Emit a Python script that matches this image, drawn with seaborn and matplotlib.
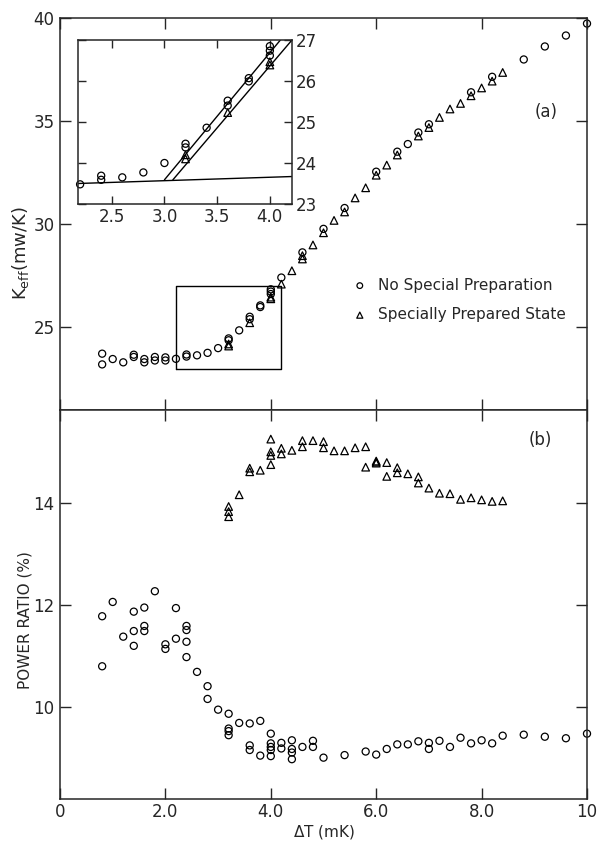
import numpy as np
import pandas as pd
import matplotlib
matplotlib.use("Agg")
import matplotlib.pyplot as plt
import seaborn as sns

# ---------------- data ----------------
# (a) K_eff, no special preparation (circles)
keff_circ_x = [0.8, 0.8, 1.0, 1.2, 1.4, 1.4, 1.6, 1.6, 1.8, 1.8, 2.0, 2.0, 2.2,
               2.4, 2.4, 2.6, 2.8, 3.0, 3.2, 3.2, 3.4, 3.6, 3.6, 3.8, 3.8,
               4.0, 4.0, 4.0, 4.2, 4.6, 5.0, 5.4, 6.0, 6.4, 6.6, 6.8, 7.0,
               7.8, 8.2, 8.8, 9.2, 9.6, 10.0]
keff_circ_y = [23.73, 23.21, 23.47, 23.31, 23.68, 23.57, 23.47, 23.31, 23.57, 23.40,
               23.55, 23.40, 23.48, 23.69, 23.59, 23.65, 23.77, 24.00, 24.47, 24.38,
               24.86, 25.52, 25.40, 26.07, 25.99, 26.85, 26.74, 26.62, 27.42, 28.64,
               29.78, 30.79, 32.55, 33.52, 33.89, 34.45, 34.85, 36.40, 37.15, 37.99,
               38.62, 39.15, 39.73]
# (a) K_eff, specially prepared state (triangles)
keff_tri_x = [3.2, 3.2, 3.6, 4.0, 4.0, 4.2, 4.4, 4.6, 4.6, 4.8, 5.0, 5.2, 5.4,
              5.6, 5.8, 6.0, 6.2, 6.4, 6.8, 7.0, 7.2, 7.4, 7.6, 7.8, 8.0, 8.2, 8.4]
keff_tri_y = [24.20, 24.10, 25.23, 26.47, 26.39, 27.10, 27.75, 28.48, 28.32, 29.00,
              29.59, 30.19, 30.60, 31.28, 31.77, 32.38, 32.87, 33.36, 34.28, 34.69,
              35.18, 35.59, 35.86, 36.23, 36.61, 36.94, 37.36]

# (b) power ratio, no special preparation (circles)
pr_circ_x = [0.8, 0.8, 1.0, 1.2, 1.4, 1.4, 1.4, 1.6, 1.6, 1.6, 1.8, 2.0, 2.0,
             2.2, 2.2, 2.4, 2.4, 2.4, 2.4, 2.6, 2.8, 2.8, 3.0, 3.2, 3.2, 3.2, 3.2,
             3.4, 3.6, 3.6, 3.6, 3.8, 3.8, 4.0, 4.0, 4.0, 4.0, 4.0, 4.2, 4.2,
             4.4, 4.4, 4.4, 4.4, 4.6, 4.8, 4.8, 5.0, 5.4, 5.8, 6.0, 6.2, 6.4,
             6.6, 6.8, 7.0, 7.0, 7.2, 7.4, 7.6, 7.8, 8.0, 8.2, 8.4, 8.8, 9.2,
             9.6, 10.0]
pr_circ_y = [11.78, 10.80, 12.06, 11.38, 11.87, 11.49, 11.20, 11.95, 11.59, 11.49,
             12.27, 11.23, 11.14, 11.94, 11.34, 11.59, 11.51, 11.28, 10.98, 10.69,
             10.41, 10.16, 9.95, 9.87, 9.58, 9.53, 9.45, 9.69, 9.68, 9.25, 9.16,
             9.73, 9.05, 9.48, 9.29, 9.22, 9.16, 9.04, 9.30, 9.19, 9.35, 9.18,
             9.11, 8.98, 9.22, 9.34, 9.22, 9.01, 9.06, 9.13, 9.07, 9.18, 9.27,
             9.27, 9.33, 9.30, 9.18, 9.34, 9.22, 9.40, 9.29, 9.35, 9.29, 9.44,
             9.46, 9.42, 9.39, 9.48]
# (b) power ratio, specially prepared state (triangles)
pr_tri_x = [3.2, 3.2, 3.2, 3.4, 3.6, 3.6, 3.8, 4.0, 4.0, 4.0, 4.0, 4.2, 4.2, 4.4,
            4.6, 4.6, 4.8, 5.0, 5.0, 5.2, 5.4, 5.6, 5.8, 5.8, 6.0, 6.0, 6.0,
            6.2, 6.2, 6.4, 6.4, 6.6, 6.8, 6.8, 7.0, 7.2, 7.4, 7.6, 7.8, 8.0,
            8.2, 8.4]
pr_tri_y = [13.93, 13.83, 13.73, 14.16, 14.68, 14.61, 14.64, 15.25, 15.00, 14.93,
            14.75, 15.07, 14.96, 15.03, 15.22, 15.10, 15.22, 15.20, 15.08, 15.02,
            15.02, 15.08, 15.10, 14.70, 14.82, 14.78, 14.80, 14.79, 14.52, 14.69,
            14.59, 14.57, 14.51, 14.39, 14.29, 14.19, 14.18, 14.07, 14.10, 14.06,
            14.03, 14.04]

# inset fitted lines
fit_base_x = [2.18, 4.21]
fit_base_y = [23.50, 23.67]
fit_circ_x = [3.00, 4.10]
fit_circ_y = [23.59, 27.00]
fit_tri_x = [3.08, 4.21]
fit_tri_y = [23.59, 27.00]
# zoom box drawn in panel (a)
box_x = [2.2, 4.2]
box_y = [23.0, 27.0]

x_ticks = [0, 2, 4, 6, 8, 10]
x_ticklabels = ["0", "2.0", "4.0", "6.0", "8.0", "10"]
keff_ticks = [25, 30, 35, 40]
pr_ticks = [10, 12, 14]
inset_xticks = [2.5, 3.0, 3.5, 4.0]
inset_xticklabels = ["2.5", "3.0", "3.5", "4.0"]
inset_yticks = [23, 24, 25, 26, 27]

lbl_circ = "No Special Preparation"
lbl_tri = "Specially Prepared State"

# ---------------- style ----------------
sns.set_style("ticks")
plt.rcParams["font.family"] = ["DejaVu Sans"]
plt.rcParams["axes.linewidth"] = 1.1

W, H = 597, 844
fig = plt.figure(figsize=(W / 100, H / 100), dpi=100)

L, R = 60, 587
ax1 = fig.add_axes([L / W, 1 - 410 / H, (R - L) / W, (410 - 18) / H])
ax2 = fig.add_axes([L / W, 1 - 799 / H, (R - L) / W, (799 - 410) / H])
axin = fig.add_axes([78 / W, 1 - 204 / H, (292 - 78) / W, (204 - 40) / H])

df_kc = pd.DataFrame({"x": keff_circ_x, "y": keff_circ_y})
df_kt = pd.DataFrame({"x": keff_tri_x, "y": keff_tri_y})
df_pc = pd.DataFrame({"x": pr_circ_x, "y": pr_circ_y})
df_pt = pd.DataFrame({"x": pr_tri_x, "y": pr_tri_y})

circ_kw = dict(marker="o", s=26, facecolor="none", edgecolor="black", linewidth=0.9, clip_on=False)
tri_kw = dict(marker="^", s=30, facecolor="none", edgecolor="black", linewidth=0.9, clip_on=False)

# panel (a)
sns.scatterplot(data=df_kc, x="x", y="y", ax=ax1, label=lbl_circ, **circ_kw)
sns.scatterplot(data=df_kt, x="x", y="y", ax=ax1, label=lbl_tri, **tri_kw)
ax1.plot([box_x[0], box_x[1], box_x[1], box_x[0], box_x[0]],
         [box_y[0], box_y[0], box_y[1], box_y[1], box_y[0]], color="black", lw=1.0)
ax1.set_xlim(0, 10)
ax1.set_ylim(21, 40)
ax1.set_xticks(x_ticks)
ax1.set_xticklabels([])
ax1.set_yticks(keff_ticks)
ax1.set_xlabel("")
ax1.set_ylabel(r"K$_{\rm eff}$(mw/K)", fontsize=13)
ax1.yaxis.set_label_coords(-0.055, 0.40)
ax1.text(546 / W, 1 - 112 / H, "(a)", transform=fig.transFigure, fontsize=12,
         ha="center", va="center")
leg = ax1.legend(loc="upper left", bbox_to_anchor=(343 / W, 1 - 270 / H),
                 bbox_transform=fig.transFigure, frameon=False, fontsize=11,
                 handletextpad=0.6, labelspacing=0.95, borderpad=0, handlelength=1.2,
                 markerscale=0.8)

# panel (b)
sns.scatterplot(data=df_pc, x="x", y="y", ax=ax2, **circ_kw)
sns.scatterplot(data=df_pt, x="x", y="y", ax=ax2, **tri_kw)
ax2.set_xlim(0, 10)
ax2.set_ylim(8.2, 15.82)
ax2.set_xticks(x_ticks)
ax2.set_xticklabels(x_ticklabels)
ax2.set_yticks(pr_ticks)
ax2.set_xlabel(r"$\Delta$T (mK)", fontsize=11)
ax2.xaxis.set_label_coords(0.5, -0.062)
ax2.set_ylabel("POWER RATIO (%)", fontsize=11)
ax2.yaxis.set_label_coords(-0.052, 0.46)
ax2.text(540 / W, 1 - 440 / H, "(b)", transform=fig.transFigure, fontsize=12,
         ha="center", va="center")

for ax in (ax1, ax2):
    ax.tick_params(direction="in", length=8, width=1.0, top=True, right=True,
                   labelsize=12, pad=4)
    for sp in ax.spines.values():
        sp.set_visible(True)
ax2.tick_params(axis="x", pad=3)

# inset
xl = (2.18, 4.21)
yl = (23.0, 27.0)
in_c = df_kc[(df_kc.x >= xl[0]) & (df_kc.x <= xl[1]) & (df_kc.y <= yl[1])]
in_t = df_kt[(df_kt.x >= xl[0]) & (df_kt.x <= xl[1]) & (df_kt.y <= yl[1])]
sns.scatterplot(data=in_c, x="x", y="y", ax=axin, **circ_kw)
sns.scatterplot(data=in_t, x="x", y="y", ax=axin, **tri_kw)
sns.lineplot(x=fit_base_x, y=fit_base_y, ax=axin, color="black", lw=1.0)
sns.lineplot(x=fit_circ_x, y=fit_circ_y, ax=axin, color="black", lw=1.0)
sns.lineplot(x=fit_tri_x, y=fit_tri_y, ax=axin, color="black", lw=1.0)
axin.set_xlim(*xl)
axin.set_ylim(*yl)
axin.set_xticks(inset_xticks)
axin.set_xticklabels(inset_xticklabels)
axin.set_yticks(inset_yticks)
axin.set_xlabel("")
axin.set_ylabel("")
axin.yaxis.tick_right()
axin.tick_params(direction="in", length=6, width=1.0, top=True, left=True, right=True,
                 labelleft=False, labelright=True, labelsize=12, pad=3)
axin.set_facecolor("white")
for sp in axin.spines.values():
    sp.set_visible(True)
    sp.set_linewidth(1.1)

fig.savefig("out.png", dpi=100)
